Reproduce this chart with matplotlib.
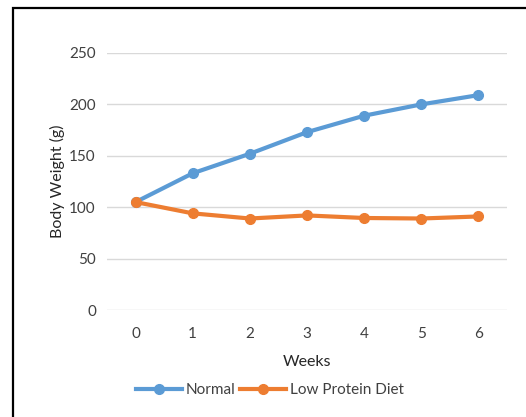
import matplotlib
matplotlib.use("Agg")
import matplotlib.pyplot as plt
from matplotlib.patches import Rectangle

weeks = ["0", "1", "2", "3", "4", "5", "6"]
normal = [105, 133, 152, 173, 189, 200, 209]
low_protein = [105, 94, 89, 92, 89.5, 89, 91]
yticks = [0, 50, 100, 150, 200, 250]

plt.rcParams['font.family'] = ['Lato', 'DejaVu Sans']

fig = plt.figure(figsize=(5.26, 4.17), dpi=100)
ax = fig.add_axes([107/526, 1 - 310/417, 400/526, 257/417])

x = list(range(len(weeks)))
ax.plot(x, normal, color="#5B9BD5", linewidth=3, marker="o", markersize=7, label="Normal")
ax.plot(x, low_protein, color="#ED7D31", linewidth=3, marker="o", markersize=7, label="Low Protein Diet")

ax.set_xlim(-0.5, len(weeks) - 0.5)
ax.set_ylim(0, 250)
ax.set_xticks(x)
ax.set_xticklabels(weeks)
ax.set_yticks(yticks)
ax.grid(axis="y", color="#D9D9D9", linewidth=1)
ax.set_axisbelow(True)
for s in ax.spines.values():
    s.set_visible(False)
ax.tick_params(length=0, labelsize=11, labelcolor="#404040")
ax.tick_params(axis="x", pad=12)
ax.tick_params(axis="y", pad=8)

ax.set_xlabel("Weeks", fontsize=11.5, color="#262626", labelpad=10)
ax.set_ylabel("Body Weight (g)", fontsize=11.5, color="#262626")
ax.yaxis.set_label_coords(-0.105, 0.5)

# legend is centred on the whole chart area, not the plot area
fig.legend(*ax.get_legend_handles_labels(), loc="center", bbox_to_anchor=(270/526, 1 - 390/417),
           ncol=2, frameon=False, fontsize=11, handlelength=3.0, handletextpad=0.25,
           columnspacing=0.3, labelcolor="#404040")

# chart border (cut off on right and bottom in the reference)
fig.add_artist(Rectangle((13/526, -0.1), 1.2, 1 - 8/417 + 0.1, transform=fig.transFigure,
                         fill=False, edgecolor="black", linewidth=1.6, clip_on=False))

fig.savefig("out.png", dpi=100, facecolor="white")
